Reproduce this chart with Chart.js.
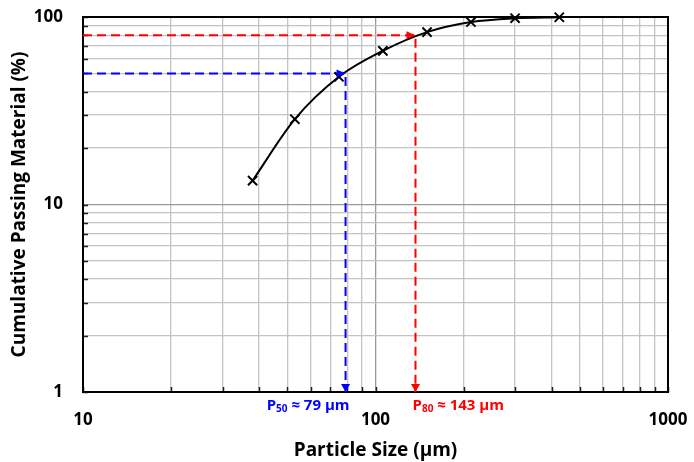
<!DOCTYPE html>
<html>
<head>
<meta charset="utf-8">
<script src="https://cdn.jsdelivr.net/npm/chart.js@4.4.1/dist/chart.umd.min.js"></script>
<style>
  html, body { margin: 0; padding: 0; background: #fff; }
  #wrap { width: 694px; height: 462px; }
</style>
</head>
<body>
<div id="wrap"><canvas id="psd-chart"></canvas></div>
<script>
// sieve data
const particleSizes = [38, 53, 75, 106, 150, 212, 300, 425];
const cumulativePassing = [13.4, 28.5, 48, 66, 83, 94, 98.5, 99.7];

const xTickValues = [10, 100, 1000];
const yTickValues = [1, 10, 100];

// P50 / P80 guides (x at the drawn position, y = passing %)
const p50Size = 79;
const p50Passing = 50;
const p80Size = 137;
const p80Passing = 80;
const p50Label = ['P', '50', ' \u2248 79 \u00b5m'];
const p80Label = ['P', '80', ' \u2248 143 \u00b5m'];

const BLUE = '#0000ff';
const RED = '#ff0000';
const FONT = '"Open Sans", Lato, sans-serif';

function logGridTicks(min, max) {
    const out = [];
    for (let d = min; d < max; d *= 10) {
        for (let m = 1; m < 10; m++) out.push({ value: d * m });
    }
    out.push({ value: max });
    return out;
}

function gridColor(ctx, majors) {
    return majors.includes(ctx.tick.value) ? '#999999' : '#c4c4c4';
}

// keep the plot box fixed, labels are allowed to overflow into the margins
function noScalePadding(s) {
    s.paddingTop = 0;
    s.paddingBottom = 0;
    s.paddingLeft = 0;
    s.paddingRight = 0;
}

const guidePlugin = {
    id: 'guides',
    beforeDatasetsDraw(chart) {
        const { ctx, chartArea: a, scales: { x, y } } = chart;
        ctx.save();
        // small inner ticks on bottom and left axis
        ctx.strokeStyle = '#202020';
        ctx.lineWidth = 1.5;
        x.ticks.forEach(t => {
            const px = Math.round(x.getPixelForValue(t.value)) + 0.5;
            ctx.beginPath();
            ctx.moveTo(px, a.bottom);
            ctx.lineTo(px, a.bottom - 5);
            ctx.stroke();
        });
        y.ticks.forEach(t => {
            const py = Math.round(y.getPixelForValue(t.value)) + 0.5;
            ctx.beginPath();
            ctx.moveTo(a.left, py);
            ctx.lineTo(a.left + 5, py);
            ctx.stroke();
        });
        ctx.strokeStyle = '#000';
        ctx.lineWidth = 2;
        ctx.strokeRect(a.left, a.top, a.right - a.left, a.bottom - a.top);
        ctx.restore();
    },
    afterDatasetsDraw(chart) {
        const { ctx, scales: { x, y } } = chart;
        ctx.save();
        const heads = [[p50Size, p50Passing, BLUE], [p80Size, p80Passing, RED]];
        heads.forEach(([sx, sy, col]) => {
            const px = x.getPixelForValue(sx);
            const py = y.getPixelForValue(sy);
            const pb = y.getPixelForValue(1);
            ctx.fillStyle = col;
            ctx.beginPath();
            ctx.moveTo(px, py);
            ctx.lineTo(px - 9, py - 4);
            ctx.lineTo(px - 9, py + 4);
            ctx.closePath();
            ctx.fill();
            ctx.beginPath();
            ctx.moveTo(px, pb);
            ctx.lineTo(px - 4.5, pb - 8);
            ctx.lineTo(px + 4.5, pb - 8);
            ctx.closePath();
            ctx.fill();
        });
        drawPLabel(ctx, p50Label, x.getPixelForValue(p50Size) + 4, 406, BLUE, 'right');
        drawPLabel(ctx, p80Label, x.getPixelForValue(p80Size) - 3, 406, RED, 'left');
        ctx.restore();
    }
};

function drawPLabel(ctx, parts, xAnchor, yMid, color, align) {
    const big = 'bold 15px ' + FONT;
    const small = 'bold 10px ' + FONT;
    ctx.font = big;
    const w0 = ctx.measureText(parts[0]).width;
    const w2 = ctx.measureText(parts[2]).width;
    ctx.font = small;
    const w1 = ctx.measureText(parts[1]).width;
    const total = w0 + w1 + w2;
    let cx = align === 'right' ? xAnchor - total : xAnchor;
    ctx.fillStyle = color;
    ctx.textAlign = 'left';
    ctx.textBaseline = 'middle';
    ctx.font = big;
    ctx.fillText(parts[0], cx, yMid);
    cx += w0;
    ctx.font = small;
    ctx.fillText(parts[1], cx, yMid + 3);
    cx += w1;
    ctx.font = big;
    ctx.fillText(parts[2], cx, yMid);
}

const psdData = particleSizes.map((s, i) => ({ x: s, y: cumulativePassing[i] }));

new Chart(document.getElementById('psd-chart'), {
    type: 'line',
    data: {
        datasets: [{
            data: psdData,
            borderColor: '#000',
            borderWidth: 2,
            cubicInterpolationMode: 'monotone',
            pointStyle: 'crossRot',
            pointRadius: 6.5,
            pointBorderWidth: 2,
            pointBorderColor: '#000',
            clip: false,
            order: 0
        }, {
            data: [{ x: 10, y: p50Passing }, { x: p50Size, y: p50Passing }, { x: p50Size, y: 1 }],
            borderColor: BLUE,
            borderWidth: 2,
            borderDash: [9, 5],
            pointRadius: 0,
            tension: 0,
            order: 1
        }, {
            data: [{ x: 10, y: p80Passing }, { x: p80Size, y: p80Passing }, { x: p80Size, y: 1 }],
            borderColor: RED,
            borderWidth: 2,
            borderDash: [9, 5],
            pointRadius: 0,
            tension: 0,
            order: 1
        }]
    },
    options: {
        responsive: true,
        maintainAspectRatio: false,
        animation: false,
        layout: { padding: { top: 17, right: 26, left: 0, bottom: 0 } },
        plugins: { legend: { display: false }, tooltip: { enabled: false } },
        scales: {
            x: {
                type: 'logarithmic',
                min: 10,
                max: 1000,
                afterBuildTicks: s => { s.ticks = logGridTicks(10, 1000); },
                afterFit: s => { s.height = 70; noScalePadding(s); },
                ticks: {
                    autoSkip: false,
                    maxRotation: 0,
                    padding: 18,
                    color: '#000',
                    font: { family: FONT, size: 17, weight: 'bold' },
                    callback: v => xTickValues.includes(v) ? String(v) : ''
                },
                grid: { color: c => gridColor(c, xTickValues), drawTicks: false, lineWidth: 1.3 },
                border: { display: false },
                title: {
                    display: true,
                    text: 'Particle Size (\u00b5m)',
                    color: '#000',
                    font: { family: FONT, size: 19, weight: 'bold' },
                    padding: { top: 0, bottom: 0 }
                }
            },
            y: {
                type: 'logarithmic',
                min: 1,
                max: 100,
                afterBuildTicks: s => { s.ticks = logGridTicks(1, 100); },
                afterFit: s => { s.width = 83; noScalePadding(s); },
                ticks: {
                    autoSkip: false,
                    padding: 20,
                    color: '#000',
                    font: { family: FONT, size: 17, weight: 'bold' },
                    callback: v => yTickValues.includes(v) ? String(v) : ''
                },
                grid: { color: c => gridColor(c, yTickValues), drawTicks: false, lineWidth: 1.3 },
                border: { display: false },
                title: {
                    display: true,
                    text: 'Cumulative Passing Material (%)',
                    color: '#000',
                    font: { family: FONT, size: 19, weight: 'bold' },
                    padding: { top: 8, bottom: 0 }
                }
            }
        }
    },
    plugins: [guidePlugin]
});
</script>
</body>
</html>
